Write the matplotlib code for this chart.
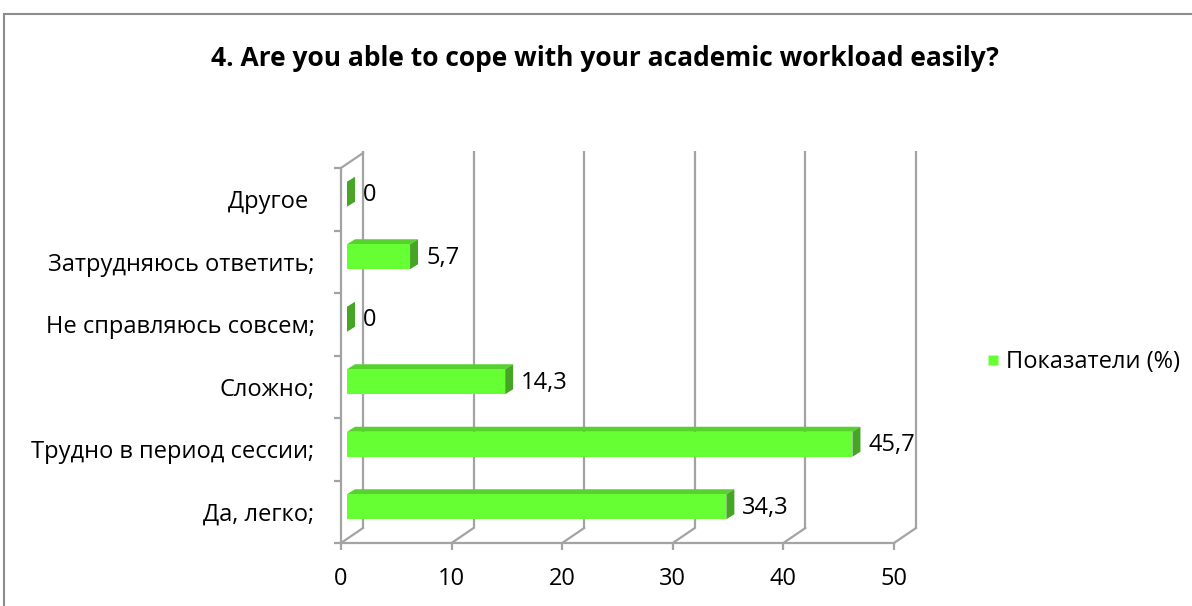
import matplotlib
matplotlib.use("Agg")
import matplotlib.pyplot as plt
from matplotlib.patches import Polygon, Rectangle
from matplotlib.lines import Line2D

# Survey answers, bottom to top
categories = ["Да, легко;", "Трудно в период сессии;", "Сложно;",
              "Не справляюсь совсем;", "Затрудняюсь ответить;", "Другое "]
values = [34.3, 45.7, 14.3, 0, 5.7, 0]
x_ticks = [0, 10, 20, 30, 40, 50]
series_name = "Показатели (%)"
title = "4. Are you able to cope with your academic workload easily?"

plt.rcParams["font.family"] = ["Open Sans", "DejaVu Sans"]
FS = 17

W, H = 1192, 606
fig = plt.figure(figsize=(W / 100, H / 100), dpi=100)
fig.patch.set_facecolor("white")

# front plane of the plot area, in pixels
ax_l, ax_r, ax_t, ax_b = 341, 894, 168, 543
ax = fig.add_axes([ax_l / W, (H - ax_b) / H, (ax_r - ax_l) / W, (ax_b - ax_t) / H])
n = len(categories)
xmax = x_ticks[-1]
ax.set_xlim(0, xmax)
ax.set_ylim(-0.5, n - 0.5)
ax.set_facecolor("none")

ux = xmax / (ax_r - ax_l)   # data units per pixel, horizontal
uy = n / (ax_b - ax_t)      # data units per pixel, vertical

GRID = "#A3A3A3"
LW = 1.6
DEPTH_X, DEPTH_Y = 22, 15   # wall depth, pixels

# back wall grid lines and floor diagonals
for t in x_ticks:
    bx = t + DEPTH_X * ux
    ax.plot([bx, bx], [-0.5 + DEPTH_Y * uy, n - 0.5 + DEPTH_Y * uy + 2 * uy],
            color=GRID, lw=LW, clip_on=False, zorder=1, solid_capstyle="butt")
    ax.plot([t, bx], [-0.5, -0.5 + DEPTH_Y * uy],
            color=GRID, lw=LW, clip_on=False, zorder=1)
# top edge of the side wall
ax.plot([0, DEPTH_X * ux], [n - 0.5, n - 0.5 + DEPTH_Y * uy],
        color=GRID, lw=LW, clip_on=False, zorder=1)

# front axes
for side in ("top", "right"):
    ax.spines[side].set_visible(False)
for side in ("left", "bottom"):
    ax.spines[side].set_color(GRID)
    ax.spines[side].set_linewidth(LW)
    ax.spines[side].set_zorder(2)

ax.set_xticks(x_ticks)
ax.set_xticklabels([str(t) for t in x_ticks])
ax.tick_params(axis="x", length=5, width=LW, color=GRID, pad=12,
               labelsize=FS, labelcolor="black")
ax.set_yticks([k - 0.5 for k in range(n + 1)])
ax.set_yticklabels([])
ax.set_yticks(range(n), minor=True)
ax.set_yticklabels(categories, minor=True)
ax.tick_params(axis="y", which="major", length=5, width=LW, color=GRID)
ax.tick_params(axis="y", which="minor", length=0, pad=19,
               labelsize=FS, labelcolor="black")

# 3D bars
FRONT, TOP, SIDE = "#66FF33", "#57D12D", "#47A526"
FX, FY = 6, 5      # front face depth offset, pixels
BX, BY = 14, 10    # back face depth offset, pixels
h = 0.4
for i, v in enumerate(values):
    y0, y1 = i - h / 2, i + h / 2
    fx, fy, bx, by = FX * ux, FY * uy, BX * ux, BY * uy
    ax.add_patch(Polygon([(fx, y1 + fy), (v + fx, y1 + fy), (v + bx, y1 + by), (bx, y1 + by)],
                         closed=True, facecolor=TOP, edgecolor="none", zorder=3, clip_on=False))
    ax.add_patch(Polygon([(v + fx, y0 + fy), (v + bx, y0 + by), (v + bx, y1 + by), (v + fx, y1 + fy)],
                         closed=True, facecolor=SIDE, edgecolor="none", zorder=3, clip_on=False))
    if v > 0:
        ax.add_patch(Rectangle((fx, y0 + fy), v, h, facecolor=FRONT,
                               edgecolor="none", zorder=4, clip_on=False))
    ax.annotate(f"{v:g}".replace(".", ","), xy=(v, i), xytext=(22, 4),
                textcoords="offset pixels", ha="left", va="center",
                fontsize=FS, color="black", annotation_clip=False)

# legend
key = Line2D([], [], linestyle="none", marker="s", markersize=7.2,
             markerfacecolor=FRONT, markeredgecolor="none")
fig.legend(handles=[key], labels=[series_name],
           loc="center left", bbox_to_anchor=(988 / W, 1 - 362 / H),
           frameon=False, borderpad=0, borderaxespad=0,
           handlelength=0.45, handletextpad=0.3, fontsize=FS)

# title
fig.text(605 / W, 1 - 58 / H, title, ha="center", va="center",
         fontsize=19, fontweight="bold", color="black")

# chart frame
fig.patches.append(Rectangle((4 / W, -0.1), 1.2, (H - 14) / H + 0.1,
                             transform=fig.transFigure, fill=False,
                             edgecolor="#8C8C8C", lw=1.5, zorder=0))

fig.savefig("out.png", dpi=100)
